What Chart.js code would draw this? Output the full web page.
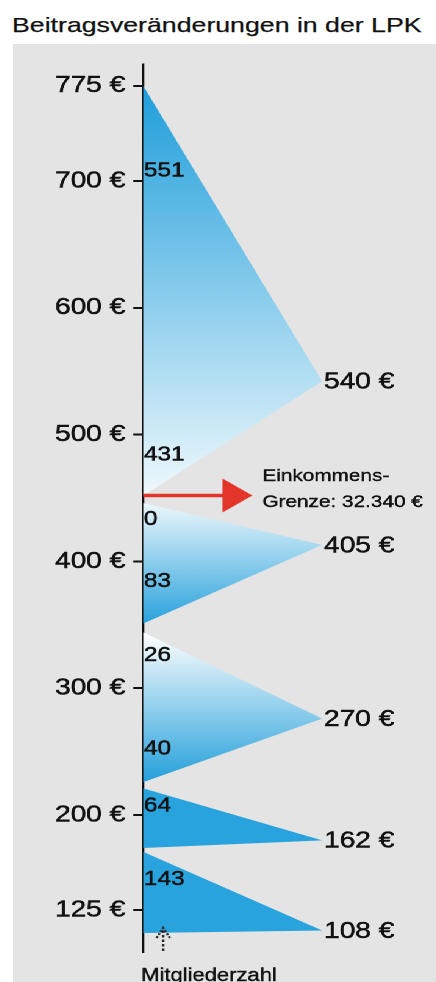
<!DOCTYPE html>
<html>
<head>
<meta charset="utf-8">
<script src="https://cdn.jsdelivr.net/npm/chart.js@4"></script>
<style>
  html, body { margin: 0; padding: 0; background: #fff; overflow: hidden; }
  #title { position: absolute; left: 12px; top: 14px; font: 21px/21px "Liberation Sans", Arial, Helvetica, sans-serif; color: #111; white-space: nowrap; transform: scaleX(1.2711); transform-origin: 0 0; -webkit-text-stroke: 0.25px #111; }
  #panel { position: absolute; left: 13px; top: 44px; width: 346.7px; height: 938px; background: #e4e4e4; transform: scaleX(1.22); transform-origin: 0 0; }
</style>
</head>
<body>
<div id="title">Beitragsveränderungen in der LPK</div>
<div id="panel"><canvas id="myChart"></canvas></div>
<script>
// Beitragsstufen: Dreieck von bandTop bis bandBottom an der Achse, Spitze bei apexAt
let bandTop    = [775, 446, 344, 221, 171];
let bandBottom = [452, 351, 226, 174, 107];
let apexAt     = [542, 413, 276, 180, 109];
let apexLabels = ['540 €', '405 €', '270 €', '162 €', '108 €'];

// Mitgliederzahl an der Achse
let memberCounts = ['551', '431', '0', '83', '26', '40', '64', '143'];
let memberAt     = [708, 484, 433, 384, 326, 252, 207, 149];

// Einkommensgrenze
let incomeLimitAt = 452;
let incomeLabel = ['Einkommens-', 'Grenze: 32.340 €'];

let yTicks = [125, 200, 300, 400, 500, 600, 700, 775];

const FONT = '"Liberation Sans", Arial, Helvetica, sans-serif';
const APEX_X = 61;
const shades = [
  ['#1f9edb', '#eff9fd'],
  ['#ecf7fc', '#29a2dc'],
  ['#ffffff', '#25a0db'],
  ['#29a3dd', '#29a3dd'],
  ['#29a3dd', '#29a3dd']
];

function shade(i) {
  return function (ctx) {
    let chart = ctx.chart;
    let y = chart.scales.y;
    if (!chart.chartArea || !y) return shades[i][1];
    let g = chart.ctx.createLinearGradient(0, y.getPixelForValue(bandTop[i]), 0, y.getPixelForValue(bandBottom[i]));
    g.addColorStop(0, shades[i][0]);
    g.addColorStop(1, shades[i][1]);
    return g;
  };
}

let datasets = [];
for (let i = 0; i < bandTop.length; i++) {
  datasets.push({
    data: [{x: 0, y: bandTop[i]}, {x: APEX_X, y: apexAt[i]}, {x: 0, y: bandBottom[i]}],
    fill: 'shape',
    borderWidth: 0,
    pointRadius: 0,
    tension: 0,
    backgroundColor: shade(i)
  });
}

function text(ctx, s, x, y) {
  ctx.fillText(s, x, y);
  ctx.strokeText(s, x, y);
}

const labelsPlugin = {
  id: 'labels',
  afterDatasetsDraw(chart) {
    let ctx = chart.ctx;
    let x = chart.scales.x;
    let y = chart.scales.y;
    let left = chart.chartArea.left;
    ctx.save();
    ctx.fillStyle = '#111';
    ctx.strokeStyle = '#111';
    ctx.lineWidth = 0.5;
    ctx.textBaseline = 'middle';
    ctx.textAlign = 'left';

    // Beitraege an den Spitzen
    ctx.font = '23px ' + FONT;
    for (let i = 0; i < apexAt.length; i++) {
      text(ctx, apexLabels[i], x.getPixelForValue(APEX_X) + 1.5, y.getPixelForValue(apexAt[i]) + 1);
    }

    // Mitgliederzahlen
    ctx.font = '20px ' + FONT;
    for (let i = 0; i < memberCounts.length; i++) {
      text(ctx, memberCounts[i], left + 0.5, y.getPixelForValue(memberAt[i]));
    }

    // Pfeil Einkommensgrenze
    let yl = y.getPixelForValue(incomeLimitAt);
    let xb = x.getPixelForValue(27);
    let xt = x.getPixelForValue(37.2);
    ctx.strokeStyle = '#e4352b';
    ctx.fillStyle = '#e4352b';
    ctx.lineWidth = 3.5;
    ctx.beginPath();
    ctx.moveTo(left, yl);
    ctx.lineTo(xb + 2, yl);
    ctx.stroke();
    ctx.beginPath();
    ctx.moveTo(xb, yl - 17);
    ctx.lineTo(xt, yl);
    ctx.lineTo(xb, yl + 17);
    ctx.closePath();
    ctx.fill();

    ctx.fillStyle = '#111';
    ctx.strokeStyle = '#111';
    ctx.lineWidth = 0.4;
    ctx.font = '17px ' + FONT;
    let xtxt = x.getPixelForValue(40.6);
    text(ctx, incomeLabel[0], xtxt, yl - 19);
    text(ctx, incomeLabel[1], xtxt, yl + 7);

    // Mitgliederzahl-Hinweis unten
    let xa = x.getPixelForValue(6.8);
    let yb = chart.chartArea.bottom;
    ctx.strokeStyle = '#2a2a2a';
    ctx.lineWidth = 2;
    ctx.setLineDash([2.5, 2]);
    ctx.beginPath();
    ctx.moveTo(xa, yb - 1);
    ctx.lineTo(xa, yb - 23);
    ctx.stroke();
    ctx.setLineDash([2, 1.5]);
    ctx.beginPath();
    ctx.moveTo(xa - 5.5, yb - 14);
    ctx.lineTo(xa, yb - 24);
    ctx.lineTo(xa + 5.5, yb - 14);
    ctx.stroke();
    ctx.setLineDash([]);

    ctx.strokeStyle = '#111';
    ctx.lineWidth = 0.4;
    ctx.font = '18px ' + FONT;
    ctx.textBaseline = 'alphabetic';
    text(ctx, 'Mitgliederzahl', left - 1.7, yb + 29);
    ctx.restore();
  }
};

new Chart('myChart', {
  type: 'line',
  data: { datasets: datasets },
  options: {
    responsive: true,
    maintainAspectRatio: false,
    animation: false,
    devicePixelRatio: 2,
    layout: { padding: { top: 14, bottom: 30, left: 0, right: 0 } },
    plugins: { legend: { display: false }, tooltip: { enabled: false } },
    scales: {
      x: { type: 'linear', display: false, min: 0, max: 100 },
      y: {
        type: 'linear',
        min: 92,
        max: 792,
        z: 1,
        afterBuildTicks: function (s) { s.ticks = yTicks.map(v => ({ value: v })); },
        afterFit: function (s) { s.width = 106.6; },
        ticks: {
          callback: v => v + ' €',
          color: '#111',
          font: { family: FONT, size: 23 },
          padding: 6.5,
          autoSkip: false,
          textStrokeColor: '#111',
          textStrokeWidth: 0.5
        },
        grid: { drawOnChartArea: false, drawTicks: true, tickLength: 8.2, tickColor: '#111', lineWidth: 2 },
        border: { display: true, color: '#111', width: 2 }
      }
    }
  },
  plugins: [labelsPlugin]
});
</script>
</body>
</html>
